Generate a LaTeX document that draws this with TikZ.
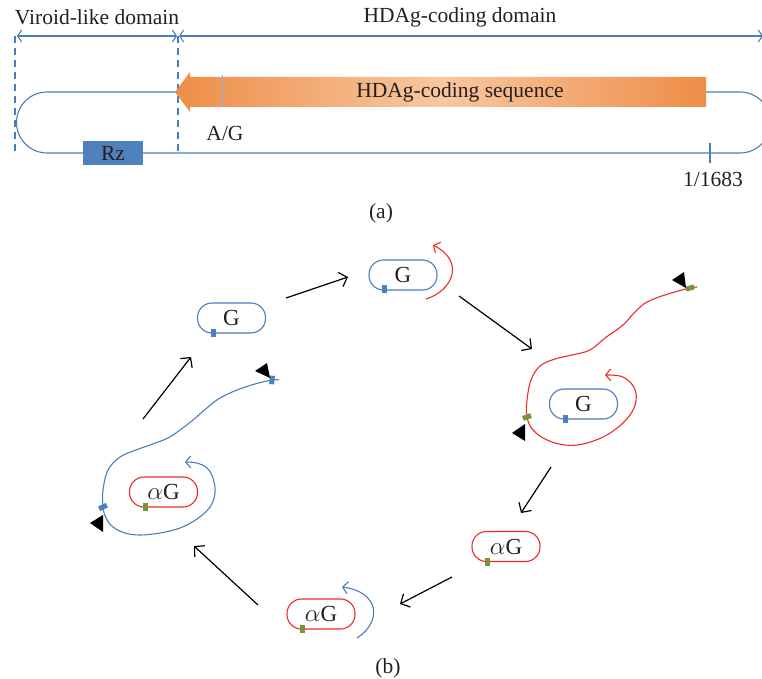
\documentclass[tikz,border=0pt]{standalone}
\usepackage{fontspec}
\setmainfont{Liberation Serif}
\usetikzlibrary{arrows.meta,shapes.misc}
\definecolor{lblue}{HTML}{4A7EBB}
\definecolor{mblue}{HTML}{4F81BD}
\definecolor{lred}{HTML}{EE2A2A}
\definecolor{mgreen}{HTML}{77933C}
\definecolor{odark}{HTML}{EE8D48}
\definecolor{olight}{HTML}{F8C7A0}
\definecolor{tgray}{HTML}{231F20}
\tikzset{
  dimtip/.tip={Straight Barb[length=4pt,width=12pt]},
  opentip/.tip={Straight Barb[length=5pt,width=12pt]},
  blueline/.style={draw=lblue, line width=1.1pt},
  redline/.style={draw=lred, line width=1.1pt},
  gbox/.style={draw=lblue, line width=1.1pt, rounded corners=14.5pt, minimum width=68pt, minimum height=30pt, inner sep=0pt, text=tgray, font=\fontsize{23}{26}\selectfont},
  abox/.style={gbox, draw=lred},
  bmark/.style={fill=mblue, draw=none, minimum width=5pt, minimum height=8.5pt, inner sep=0pt},
  gmark/.style={fill=mgreen, draw=none, minimum width=5pt, minimum height=8.5pt, inner sep=0pt},
  flow/.style={-{Straight Barb[length=7pt,width=15pt]}, line width=1.2pt, draw=black},
  lbl/.style={inner sep=0pt, text=tgray},
}
\begin{document}
\begin{tikzpicture}[x=1pt,y=-1pt,font=\fontsize{21.5}{25}\selectfont]
\useasboundingbox (0,0) rectangle (762,679);
% ---------------- (a) ----------------
\node[lbl] (tvir) at (97,17) {Viroid-like domain};
\node[lbl] (thd) at (460,17) {HDAg-coding domain};
\coordinate (d1) at (17,36);
\coordinate (d2) at (177,36);
\coordinate (d3) at (179,36);
\coordinate (d4) at (763,36);
\draw[blueline,dimtip-dimtip] (d1) -- (d2);
\draw[blueline,dimtip-dimtip] (d3) -- (d4);
\coordinate (v1t) at (15,36);
\coordinate (v1b) at (15,156);
\coordinate (v2t) at (178,36);
\coordinate (v2b) at (178,156);
\draw[blueline,dash pattern=on 7pt off 5pt] (v1t) -- (v1b);
\draw[blueline,dash pattern=on 7pt off 5pt] (v2t) -- (v2b);
% loop
\draw[blueline] (178,92) -- (47,92) arc[start angle=90,end angle=270,radius=30.5pt] -- (740,153) arc[start angle=-90,end angle=90,radius=30.5pt] -- (706,92);
% orange arrow
\shade[left color=odark,right color=odark,middle color=olight] (175,92) -- (190,72) -- (190,77) -- (706,77) -- (706,107) -- (190,107) -- (190,112) -- cycle;
\node[lbl] (tseq) at (460,92) {HDAg-coding sequence};
\coordinate (agt) at (222,75);
\coordinate (agb) at (222,108);
\draw[draw=lblue!60,line width=0.8pt] (agt) -- (agb);
\node[lbl] (tag) at (225,133) {A/G};
\node[fill=mblue,minimum width=60pt,minimum height=24pt,inner sep=0pt,text=tgray] (rz) at (113,153) {Rz};
\coordinate (t1) at (710,143);
\coordinate (t2) at (710,163);
\draw[blueline] (t1) -- (t2);
\node[lbl] (tnum) at (713,179) {1/1683};
\node[lbl] (ta) at (381,213) {(a)};
% ---------------- (b) ----------------
\node[gbox] (gL) at (231.5,318) {G};
\node[bmark] (mgL) at (213,333) {};
\node[gbox] (gT) at (403,275) {G};
\node[bmark] (mgT) at (384.5,289) {};
\node[gbox] (gR) at (583.5,404) {G};
\node[bmark] (mgR) at (565,419) {};
\node[abox] (aR) at (506,546.5) {$\alpha$G};
\node[gmark] (maR) at (487,562) {};
\node[abox] (aB) at (321,614) {$\alpha$G};
\node[gmark] (maB) at (302,629) {};
\node[abox] (aL) at (163.5,492) {$\alpha$G};
\node[gmark] (maL) at (145,507) {};
% black flow arrows
\coordinate (f1a) at (143,419); \coordinate (f1b) at (191,357);
\coordinate (f2a) at (286,298); \coordinate (f2b) at (348,277);
\coordinate (f3a) at (459,296); \coordinate (f3b) at (532,349);
\coordinate (f4a) at (551,467); \coordinate (f4b) at (521,513);
\coordinate (f5a) at (452,577); \coordinate (f5b) at (400,604);
\coordinate (f6a) at (258,605); \coordinate (f6b) at (194,546);
\draw[flow] (f1a) -- (f1b);
\draw[flow] (f2a) -- (f2b);
\draw[flow] (f3a) -- (f3b);
\draw[flow] (f4a) -- (f4b);
\draw[flow] (f5a) -- (f5b);
\draw[flow] (f6a) -- (f6b);
% small arcs
\coordinate (rs) at (426,299); \coordinate (re) at (433,245);
\draw[redline,-opentip] (rs) .. controls (452,291) and (466,262) .. (re);
\coordinate (bs) at (357,638); \coordinate (be) at (342,587);
\draw[blueline,-opentip] (bs) .. controls (382,622) and (380,592) .. (be);
% red big curve
\draw[redline,-opentip] plot[smooth,tension=0.6] coordinates {(697,287) (690,288) (668,294) (647,302) (635,312) (623,325) (605,338) (590,350) (572,355) (555,359) (540,366) (531,380) (527,400) (527,417) (533,430) (547,440) (565,445) (583,444) (605,436) (623,423) (634,408) (636,393) (630,382) (620,376) (605,375)};
\node[gmark,rotate=-75] (mr1) at (690,288) {};
\node[gmark,rotate=-70] (mr2) at (527,417) {};
\fill[black] (684,272) -- (672,280) -- (686,288) -- cycle;
\fill[black] (525,424) -- (512,433) -- (525,441) -- cycle;
% blue big curve
\draw[blueline,-opentip] plot[smooth,tension=0.6] coordinates {(279,380) (272,380) (255,384) (237,390) (220,398) (208,407) (193,420) (180,430) (168,438) (150,445) (136,450) (120,457) (108,470) (103,490) (103,507) (106,518) (113,527) (125,533) (140,535) (160,533) (180,528) (197,519) (210,507) (215,493) (213,478) (207,468) (197,463) (185,462)};
\node[bmark,rotate=-5] (mb1) at (272,380) {};
\node[bmark,rotate=-65] (mb2) at (103,507) {};
\fill[black] (267,363) -- (255,371) -- (270,378) -- cycle;
\fill[black] (103,515) -- (90,523) -- (103,532) -- cycle;
\node[lbl] (tb) at (388,668) {(b)};
\end{tikzpicture}
\end{document}
